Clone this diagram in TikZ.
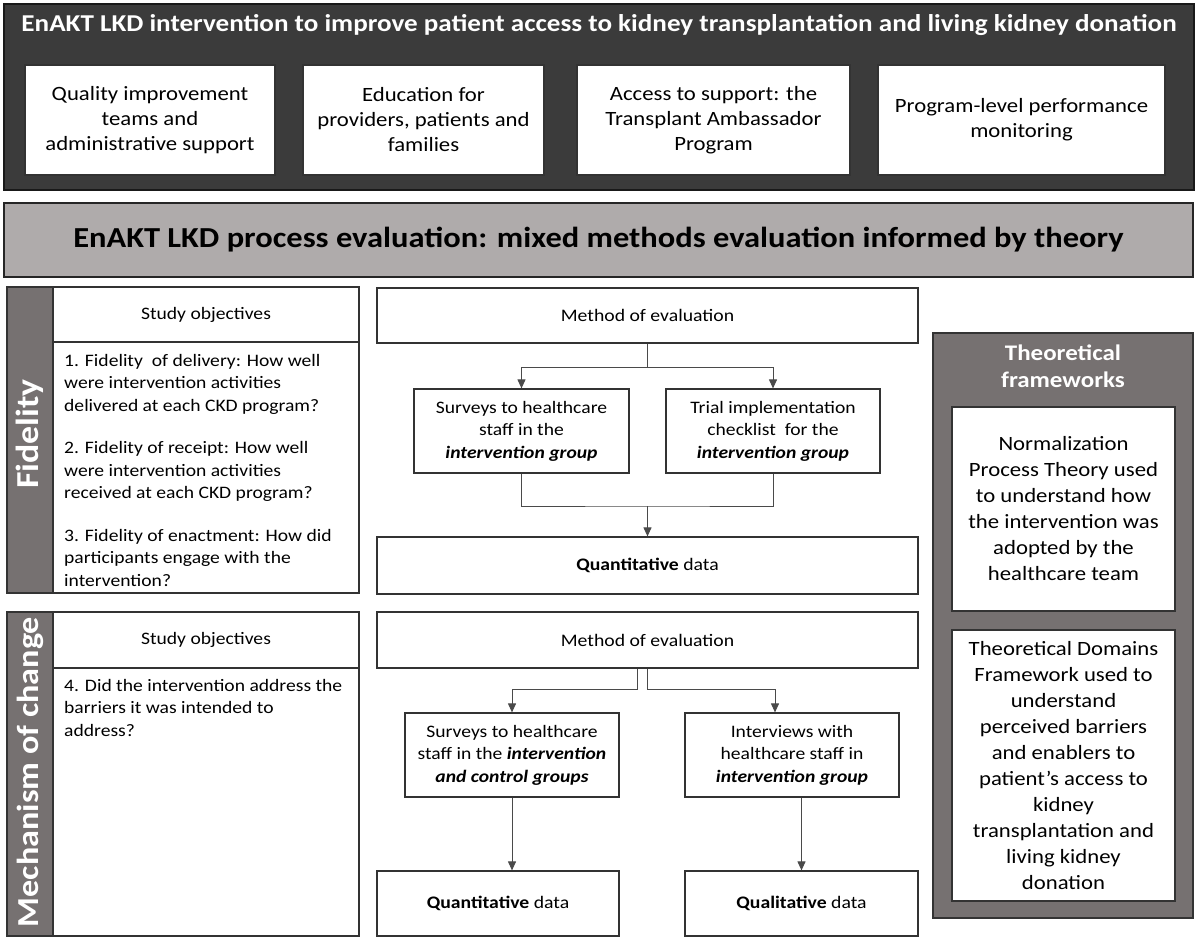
\documentclass[tikz,border=0pt]{standalone}
\usepackage{fontspec}
\setmainfont{Carlito}[FakeStretch=1.12]
\usepackage{xcolor}
\usetikzlibrary{arrows.meta, positioning}
\definecolor{darkpanel}{HTML}{3B3B3B}
\definecolor{midgrey}{HTML}{767171}
\definecolor{lightgrey}{HTML}{AFABAB}
\definecolor{linegrey}{HTML}{4A4A4A}
\tikzset{
  whitebox/.style={draw=black!80, line width=1.2pt, fill=white, align=center, inner sep=0pt},
  greybox/.style={draw=black!80, line width=1.2pt, fill=midgrey},
  link/.style={draw=linegrey, line width=1pt},
  arrow/.style={link, -{Triangle[length=9pt, width=8pt]}},
}

\begin{document}
\begin{tikzpicture}[x=1pt, y=-1pt]
    \useasboundingbox (0,0) rectangle (1200,941);

    \node[draw=black!90, line width=1.6pt, fill=darkpanel,
          minimum width=1190, minimum height=186](intervention) at (599,97){};
    \node[text=white, font=\bfseries\fontsize{24.2}{29}\selectfont](interventiontitle) at (599,25){EnAKT LKD intervention to improve patient access to kidney transplantation and living kidney donation};
    \node[whitebox, minimum width=250, minimum height=110, font=\fontsize{20.3}{25}\selectfont](qiteams) at (150,120){Quality improvement\\teams and\\administrative support};
    \node[whitebox, minimum width=241, minimum height=110, font=\fontsize{20.3}{25}\selectfont](education) at (423.5,120){Education for\\providers, patients and\\families};
    \node[whitebox, minimum width=273, minimum height=110, font=\fontsize{20.3}{25}\selectfont](ambassador) at (713.5,120){Access to support: the\\Transplant Ambassador\\Program};
    \node[whitebox, minimum width=287, minimum height=110, font=\fontsize{20.3}{25}\selectfont](monitoring) at (1021.5,120){Program-level performance\\monitoring};

    \node[draw=black!85, line width=2.6pt, fill=lightgrey, minimum width=1189, minimum height=74,
          font=\bfseries\fontsize{29}{34}\selectfont](evaluation) at (598.5,240){EnAKT LKD process evaluation: mixed methods evaluation informed by theory};

    \node[greybox, minimum width=46, minimum height=306](fidstrip) at (30,440){};
    \node[rotate=90, text=white, font=\bfseries\fontsize{32}{34}\selectfont](fidlabel) at ([yshift=6pt]fidstrip.center){Fidelity};
    \node[whitebox, minimum width=306, minimum height=55, font=\fontsize{17.5}{21}\selectfont](fidhead) at (206,314.5){Study objectives};
    \node[whitebox, minimum width=306, minimum height=251](fidbody) at (206,467.5){};
    \node[anchor=north west, align=left, inner sep=0pt, font=\fontsize{17.5}{22.5}\selectfont](fidobjectives) at (64,354){
      1. Fidelity\ \ of delivery: How well\\
      were intervention activities\\
      delivered at each CKD program?\\[20pt]
      2. Fidelity of receipt: How well\\
      were intervention activities\\
      received at each CKD program?\\[20pt]
      3. Fidelity of enactment: How did\\
      participants engage with the\\
      intervention?};

    \node[whitebox, minimum width=541, minimum height=55, font=\fontsize{17.6}{21}\selectfont](methodF) at (647.5,315.5){Method of evaluation};
    \node[whitebox, minimum width=215, minimum height=84, font=\fontsize{17.5}{22.5}\selectfont](surveyF) at (521.5,431){Surveys to healthcare\\staff in the\\\textbf{\textit{intervention group}}};
    \node[whitebox, minimum width=214, minimum height=84, font=\fontsize{17.5}{22.5}\selectfont](checkF) at (773,431){Trial implementation\\checklist\ \ for the\\\textbf{\textit{intervention group}}};
    \node[whitebox, minimum width=541, minimum height=57, font=\fontsize{17.6}{21}\selectfont](quantF) at (647.5,565.5){\textbf{Quantitative} data};

    \draw[link] (methodF.south) -- ++(0,24) coordinate (forkF);
    \draw[arrow] (forkF) -| (surveyF.north);
    \draw[arrow] (forkF) -| (checkF.north);
    \coordinate (joinF) at (647.5,506);
    \draw[link] (surveyF.south) |- (joinF) -| (checkF.south);
    \draw[arrow] (joinF) -- (quantF.north);

    \node[greybox, minimum width=46, minimum height=324](mechstrip) at (30,774){};
    \node[rotate=90, text=white, font=\bfseries\fontsize{30.5}{33}\selectfont](mechlabel) at ([yshift=2pt]mechstrip.center){Mechanism of change};
    \node[whitebox, minimum width=306, minimum height=56, font=\fontsize{17.5}{21}\selectfont](mechhead) at (206,640){Study objectives};
    \node[whitebox, minimum width=306, minimum height=268](mechbody) at (206,802){};
    \node[anchor=north west, align=left, inner sep=0pt, font=\fontsize{17.5}{22.5}\selectfont](mechobjectives) at (64,679){
      4. Did the intervention address the\\
      barriers it was intended to\\
      address?};

    \node[whitebox, minimum width=541, minimum height=56, font=\fontsize{17.6}{21}\selectfont](methodM) at (647.5,640){Method of evaluation};
    \node[whitebox, minimum width=214, minimum height=84, font=\fontsize{17.5}{22.5}\selectfont](surveyM) at (512,755){Surveys to healthcare\\staff in the \textbf{\textit{intervention}}\\\textbf{\textit{and control groups}}};
    \node[whitebox, minimum width=214, minimum height=84, font=\fontsize{17.5}{22.5}\selectfont](interviewM) at (792,755){Interviews with\\healthcare staff in\\\textbf{\textit{intervention group}}};
    \node[whitebox, minimum width=242, minimum height=65, font=\fontsize{17.6}{21}\selectfont](quantM) at (498,903.5){\textbf{Quantitative} data};
    \node[whitebox, minimum width=233, minimum height=65, font=\fontsize{17.6}{21}\selectfont](qualM) at (801.5,903.5){\textbf{Qualitative} data};

    \draw[arrow] ([xshift=-10pt]methodM.south) -- ++(0,21) -| (surveyM.north);
    \draw[arrow] (methodM.south) -- ++(0,21) -| ([xshift=-17pt]interviewM.north);
    \draw[arrow] (surveyM.south) -- (surveyM.south |- quantM.north);
    \draw[arrow] (qualM.north |- interviewM.south) -- (qualM.north);

    \node[greybox, minimum width=260, minimum height=585](frameworks) at (1063,625.5){};
    \node[text=white, align=center, font=\bfseries\fontsize{22.3}{27}\selectfont](frameworkstitle) at (1063,366){Theoretical\\frameworks};
    \node[whitebox, minimum width=223, minimum height=204, font=\fontsize{20.3}{26}\selectfont](npt) at (1063.5,509){Normalization\\Process Theory used\\to understand how\\the intervention was\\adopted by the\\healthcare team};
    \node[whitebox, minimum width=223, minimum height=271, font=\fontsize{20.3}{26}\selectfont](tdf) at (1063.5,765.5){Theoretical Domains\\Framework used to\\understand\\perceived barriers\\and enablers to\\patient’s access to\\kidney\\transplantation and\\living kidney\\donation};
  \end{tikzpicture}
\end{document}
